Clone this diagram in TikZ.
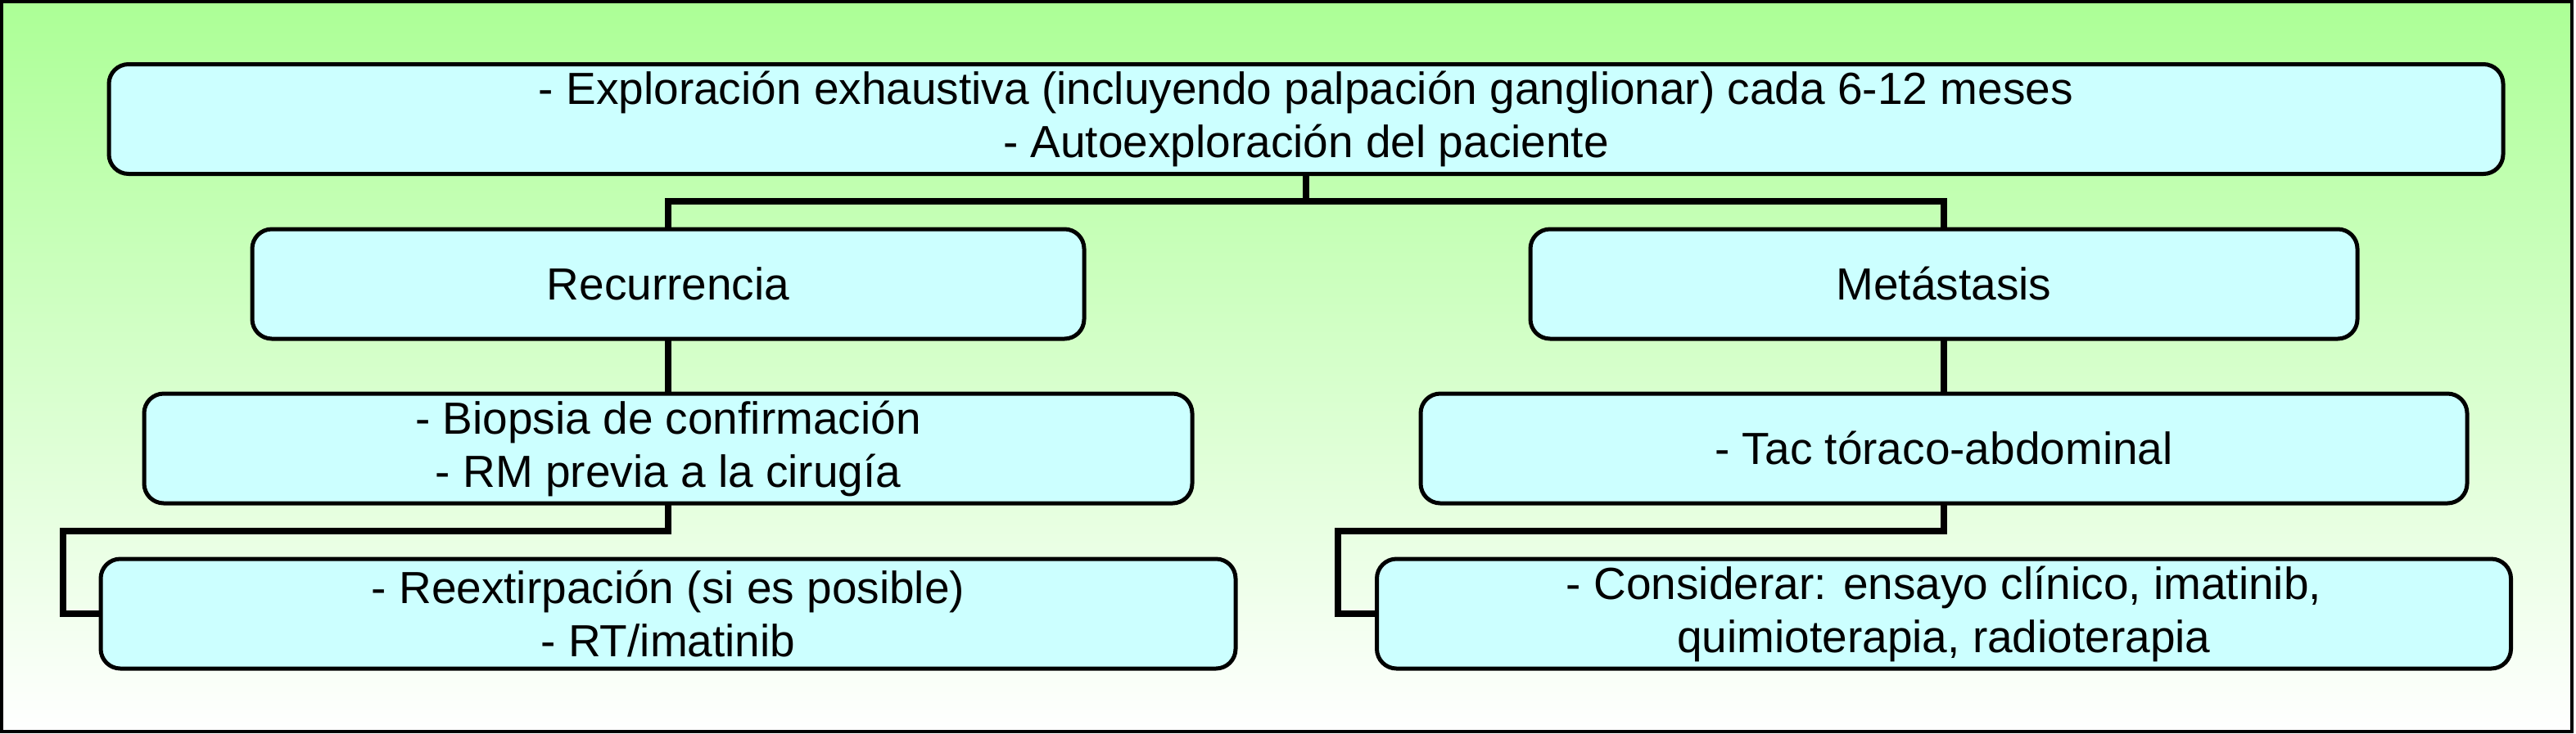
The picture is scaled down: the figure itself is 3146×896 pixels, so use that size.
\documentclass[tikz,border=0pt]{standalone}
\usepackage{fontspec}
\setmainfont{Liberation Sans}
\definecolor{boxfill}{RGB}{204,255,255}
\definecolor{bgtop}{RGB}{172,255,150}
\begin{document}
\begin{tikzpicture}[x=0.5pt,y=-0.5pt,
  box/.style={draw=black,line width=2.5pt,fill=boxfill,rounded corners=12pt,
    inner sep=0pt,outer sep=0pt,align=center,minimum height=67pt,
    font=\fontsize{27.5}{32.5}\selectfont},
  conn/.style={draw=black,line width=3.75pt,line join=miter}]
\useasboundingbox (0,0) rectangle (3146,896);
\fill[white] (0,0) rectangle (3146,896);
\shade[top color=bgtop,bottom color=white] (2,2) rectangle (3141,894);
\draw[line width=2.25pt] (2,2) rectangle (3141,894);

\node[box,minimum width=1462pt] (top) at (1595,145.5)
  {- Exploración exhaustiva (incluyendo palpación ganglionar) cada 6-12 meses\\- Autoexploración del paciente};
\node[box,minimum width=508pt] (rec) at (816,347) {Recurrencia};
\node[box,minimum width=505pt] (met) at (2374,347) {Metástasis};
\node[box,minimum width=640pt] (bio) at (816,548) {- Biopsia de confirmación\\- RM previa a la cirugía};
\node[box,minimum width=639pt] (tac) at (2374,548) {- Tac tóraco-abdominal};
\node[box,minimum width=693pt] (reex) at (816,750) {- Reextirpación (si es posible)\\- RT/imatinib};
\node[box,minimum width=692.5pt] (cons) at (2374,750) {- Considerar: ensayo clínico, imatinib,\\quimioterapia, radioterapia};

\coordinate (j1) at (1595,246);
\coordinate (bl) at (77,649);
\coordinate (br) at (1634,649);
\draw[conn] (top.south) -- (j1);
\draw[conn] (rec.north) |- (j1) -| (met.north);
\draw[conn] (rec.south) -- (bio.north);
\draw[conn] (met.south) -- (tac.north);
\draw[conn] (bio.south) |- (bl) |- (reex.west);
\draw[conn] (tac.south) |- (br) |- (cons.west);
\end{tikzpicture}
\end{document}
